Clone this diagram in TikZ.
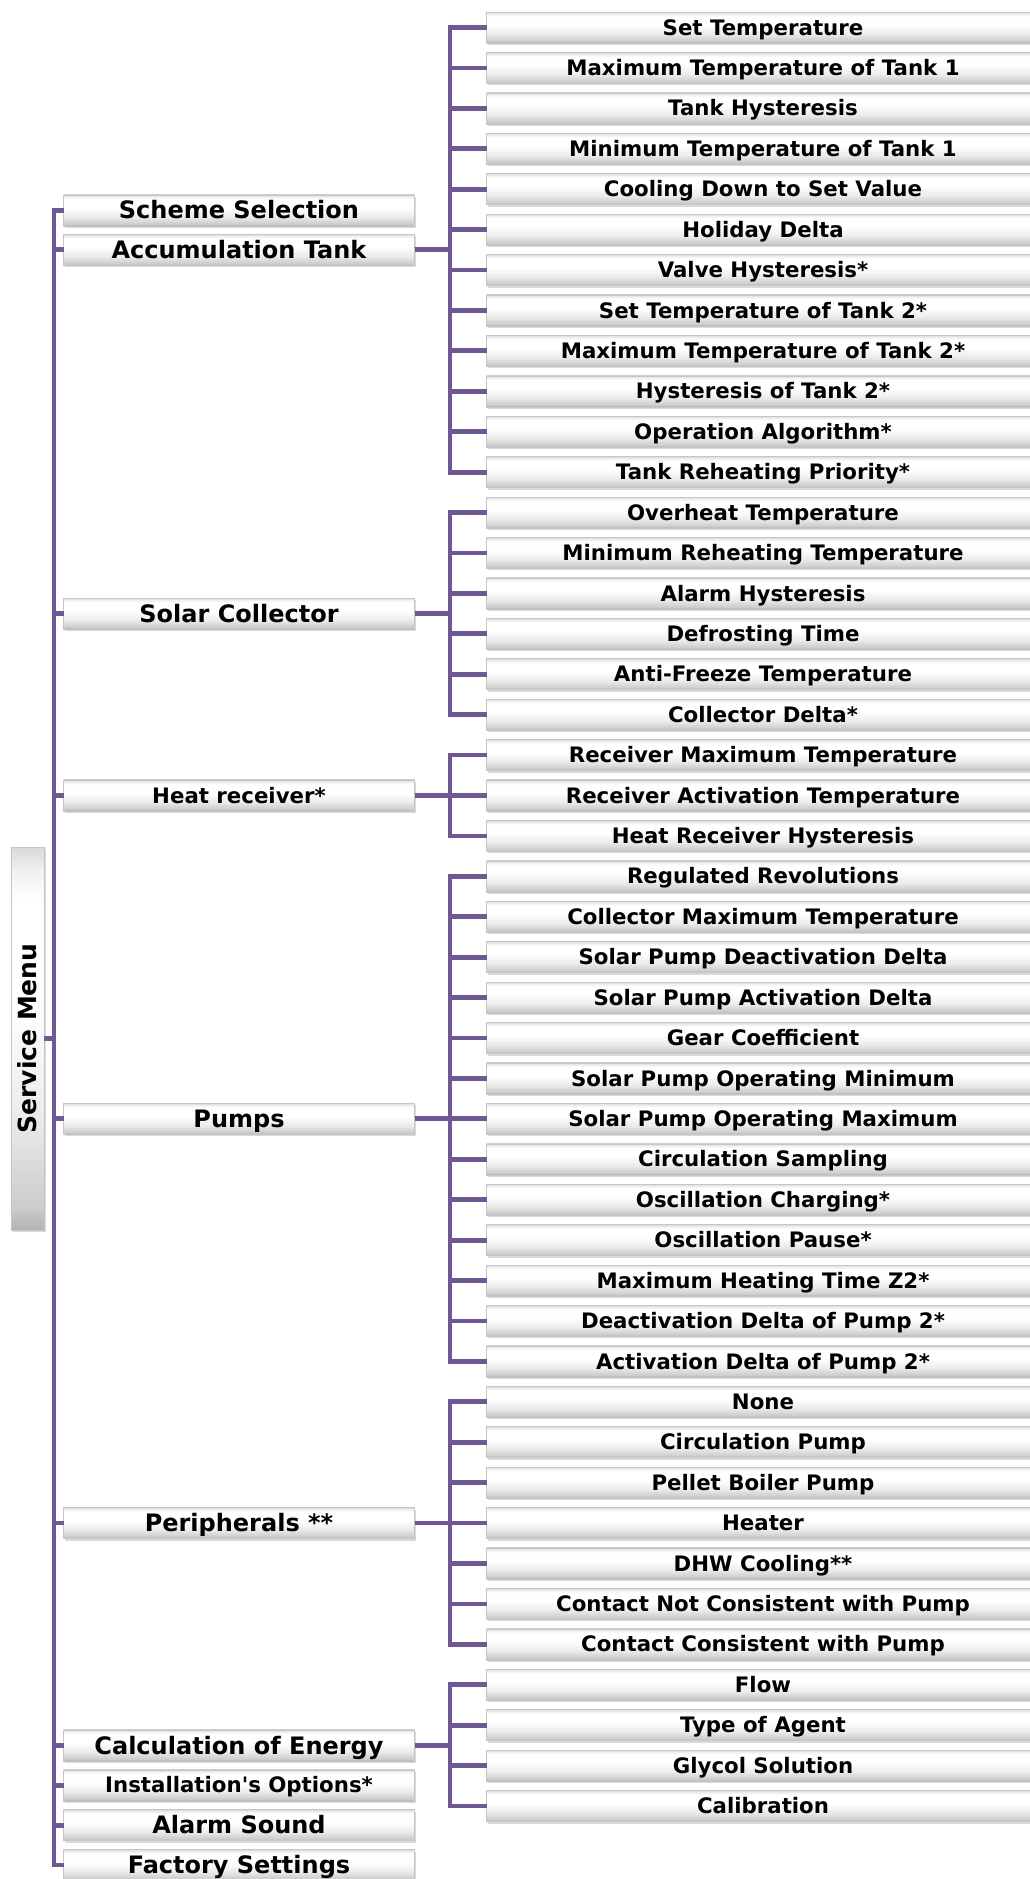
\documentclass[tikz,border=0pt]{standalone}
\usepackage{fontspec}
\setmainfont{DejaVu Sans}[Ligatures=TeXOff]
\usetikzlibrary{calc, positioning, shadows}
\definecolor{menupurple}{RGB}{112,88,148}
\pgfdeclareverticalshading{bevel}{100bp}{color(0bp)=(gray!60); color(25bp)=(gray!60); color(28bp)=(gray!40); color(40bp)=(gray!15); color(55bp)=(white); color(68bp)=(white); color(72bp)=(gray!12); color(75bp)=(gray!30); color(100bp)=(gray!30)}

\begin{document}
\begin{tikzpicture}[x=1pt, y=1pt,
	box/.style={shading=bevel, draw=gray!45, line width=0.5pt, inner sep=0pt, outer sep=0pt, minimum height=31pt, text height=17pt, text depth=1.7pt, font=\bfseries\fontsize{21.3}{24}\selectfont, drop shadow={opacity=0.3, shadow xshift=1.5pt, shadow yshift=-2pt}},
	item/.style={box, minimum width=553pt},
	mainbox/.style={box, minimum width=351pt, text height=19pt, font=\bfseries\fontsize{24}{28}\selectfont},
	subbox/.style={box, minimum width=351pt},
	link/.style={draw=menupurple, line width=4.8pt}]
				\useasboundingbox (0,0) rectangle (1030,-1879);
				
				\coordinate (trunk) at (54,0);
				\coordinate (lcol) at (239,0);
				\coordinate (bus) at (450,0);
				
				\node[item] (settemp) at (763,-27.5) {Set Temperature};
				\node[item, below = 9.42pt of settemp] (maxtank1) {Maximum Temperature of Tank 1};
				\node[item, below = 9.42pt of maxtank1] (tankhyst) {Tank Hysteresis};
				\node[item, below = 9.42pt of tankhyst] (mintank1) {Minimum Temperature of Tank 1};
				\node[item, below = 9.42pt of mintank1] (cooling) {Cooling Down to Set Value};
				\node[item, below = 9.42pt of cooling] (holiday) {Holiday Delta};
				\node[item, below = 9.42pt of holiday] (valvehyst) {Valve Hysteresis*};
				\node[item, below = 9.42pt of valvehyst] (settank2) {Set Temperature of Tank 2*};
				\node[item, below = 9.42pt of settank2] (maxtank2) {Maximum Temperature of Tank 2*};
				\node[item, below = 9.42pt of maxtank2] (hysttank2) {Hysteresis of Tank 2*};
				\node[item, below = 9.42pt of hysttank2] (algorithm) {Operation Algorithm*};
				\node[item, below = 9.42pt of algorithm] (reheat) {Tank Reheating Priority*};
				
				\node[item, below = 9.42pt of reheat] (overheat) {Overheat Temperature};
				\node[item, below = 9.42pt of overheat] (minreheat) {Minimum Reheating Temperature};
				\node[item, below = 9.42pt of minreheat] (alarmhyst) {Alarm Hysteresis};
				\node[item, below = 9.42pt of alarmhyst] (defrost) {Defrosting Time};
				\node[item, below = 9.42pt of defrost] (antifreeze) {Anti-Freeze Temperature};
				\node[item, below = 9.42pt of antifreeze] (colldelta) {Collector Delta*};
				
				\node[item, below = 9.42pt of colldelta] (recmax) {Receiver Maximum Temperature};
				\node[item, below = 9.42pt of recmax] (recact) {Receiver Activation Temperature};
				\node[item, below = 9.42pt of recact] (rechyst) {Heat Receiver Hysteresis};
				
				\node[item, below = 9.42pt of rechyst] (revolutions) {Regulated Revolutions};
				\node[item, below = 9.42pt of revolutions] (collmax) {Collector Maximum Temperature};
				\node[item, below = 9.42pt of collmax] (pumpdeact) {Solar Pump Deactivation Delta};
				\node[item, below = 9.42pt of pumpdeact] (pumpact) {Solar Pump Activation Delta};
				\node[item, below = 9.42pt of pumpact] (gear) {Gear Coefficient};
				\node[item, below = 9.42pt of gear] (opmin) {Solar Pump Operating Minimum};
				\node[item, below = 9.42pt of opmin] (opmax) {Solar Pump Operating Maximum};
				\node[item, below = 9.42pt of opmax] (sampling) {Circulation Sampling};
				\node[item, below = 9.42pt of sampling] (oscchg) {Oscillation Charging*};
				\node[item, below = 9.42pt of oscchg] (oscpause) {Oscillation Pause*};
				\node[item, below = 9.42pt of oscpause] (maxheat) {Maximum Heating Time Z2*};
				\node[item, below = 9.42pt of maxheat] (deact2) {Deactivation Delta of Pump 2*};
				\node[item, below = 9.42pt of deact2] (act2) {Activation Delta of Pump 2*};
				
				\node[item, below = 9.42pt of act2] (none) {None};
				\node[item, below = 9.42pt of none] (circpump) {Circulation Pump};
				\node[item, below = 9.42pt of circpump] (pellet) {Pellet Boiler Pump};
				\node[item, below = 9.42pt of pellet] (heater) {Heater};
				\node[item, below = 9.42pt of heater] (dhw) {DHW Cooling**};
				\node[item, below = 9.42pt of dhw] (notconsist) {Contact Not Consistent with Pump};
				\node[item, below = 9.42pt of notconsist] (consist) {Contact Consistent with Pump};
				
				\node[item, below = 9.42pt of consist] (flow) {Flow};
				\node[item, below = 9.42pt of flow] (agent) {Type of Agent};
				\node[item, below = 9.42pt of agent] (glycol) {Glycol Solution};
				\node[item, below = 9.42pt of glycol] (calib) {Calibration};
				
				\coordinate (accmid) at ($(settemp)!.5!(reheat)$);
				\coordinate (solarmid) at ($(overheat)!.5!(colldelta)$);
				\coordinate (pumpsmid) at ($(revolutions)!.5!(act2)$);
				\coordinate (energymid) at ($(flow)!.5!(calib)$);
				
				\node[mainbox] (acc) at (lcol |- accmid) {Accumulation Tank};
				\node[mainbox, above = 8.5pt of acc] (scheme) {Scheme Selection};
				\node[mainbox] (solar) at (lcol |- solarmid) {Solar Collector};
				\node[subbox] (receiver) at (lcol |- recact) {Heat receiver*};
				\node[mainbox] (pumps) at (lcol |- pumpsmid) {Pumps};
				\node[mainbox] (periph) at (lcol |- heater) {Peripherals **};
				\node[mainbox] (energy) at (lcol |- energymid) {Calculation of Energy};
				\node[subbox, below = 8.9pt of energy] (options) {Installation's Options*};
				\node[mainbox, below = 8.9pt of options] (alarm) {Alarm Sound};
				\node[mainbox, below = 8.9pt of alarm] (factory) {Factory Settings};
				
				\node[box, rotate=90, minimum width=383pt, minimum height=33pt, text height=19pt, font=\bfseries\fontsize{25}{30}\selectfont] (menu) at (27.5,-1038.5) {Service Menu};
				
				\draw[link] (menu.south) -- (menu.south -| trunk);
				\draw[link] (scheme.west) -| (trunk |- factory) -- (factory.west);
				\draw[link] (acc.west) -- (acc.west -| trunk);
				\draw[link] (solar.west) -- (solar.west -| trunk);
				\draw[link] (receiver.west) -- (receiver.west -| trunk);
				\draw[link] (pumps.west) -- (pumps.west -| trunk);
				\draw[link] (periph.west) -- (periph.west -| trunk);
				\draw[link] (energy.west) -- (energy.west -| trunk);
				\draw[link] (options.west) -- (options.west -| trunk);
				\draw[link] (alarm.west) -- (alarm.west -| trunk);
				
				\draw[link] (acc.east) -- (acc.east -| bus) |- (settemp.west);
				\draw[link] (acc.east) -- (acc.east -| bus) |- (maxtank1.west);
				\draw[link] (acc.east) -- (acc.east -| bus) |- (tankhyst.west);
				\draw[link] (acc.east) -- (acc.east -| bus) |- (mintank1.west);
				\draw[link] (acc.east) -- (acc.east -| bus) |- (cooling.west);
				\draw[link] (acc.east) -- (acc.east -| bus) |- (holiday.west);
				\draw[link] (acc.east) -- (acc.east -| bus) |- (valvehyst.west);
				\draw[link] (acc.east) -- (acc.east -| bus) |- (settank2.west);
				\draw[link] (acc.east) -- (acc.east -| bus) |- (maxtank2.west);
				\draw[link] (acc.east) -- (acc.east -| bus) |- (hysttank2.west);
				\draw[link] (acc.east) -- (acc.east -| bus) |- (algorithm.west);
				\draw[link] (acc.east) -- (acc.east -| bus) |- (reheat.west);
				
				\draw[link] (solar.east) -- (solar.east -| bus) |- (overheat.west);
				\draw[link] (solar.east) -- (solar.east -| bus) |- (minreheat.west);
				\draw[link] (solar.east) -- (solar.east -| bus) |- (alarmhyst.west);
				\draw[link] (solar.east) -- (solar.east -| bus) |- (defrost.west);
				\draw[link] (solar.east) -- (solar.east -| bus) |- (antifreeze.west);
				\draw[link] (solar.east) -- (solar.east -| bus) |- (colldelta.west);
				
				\draw[link] (receiver.east) -- (receiver.east -| bus) |- (recmax.west);
				\draw[link] (receiver.east) -- (receiver.east -| bus) |- (recact.west);
				\draw[link] (receiver.east) -- (receiver.east -| bus) |- (rechyst.west);
				
				\draw[link] (pumps.east) -- (pumps.east -| bus) |- (revolutions.west);
				\draw[link] (pumps.east) -- (pumps.east -| bus) |- (collmax.west);
				\draw[link] (pumps.east) -- (pumps.east -| bus) |- (pumpdeact.west);
				\draw[link] (pumps.east) -- (pumps.east -| bus) |- (pumpact.west);
				\draw[link] (pumps.east) -- (pumps.east -| bus) |- (gear.west);
				\draw[link] (pumps.east) -- (pumps.east -| bus) |- (opmin.west);
				\draw[link] (pumps.east) -- (pumps.east -| bus) |- (opmax.west);
				\draw[link] (pumps.east) -- (pumps.east -| bus) |- (sampling.west);
				\draw[link] (pumps.east) -- (pumps.east -| bus) |- (oscchg.west);
				\draw[link] (pumps.east) -- (pumps.east -| bus) |- (oscpause.west);
				\draw[link] (pumps.east) -- (pumps.east -| bus) |- (maxheat.west);
				\draw[link] (pumps.east) -- (pumps.east -| bus) |- (deact2.west);
				\draw[link] (pumps.east) -- (pumps.east -| bus) |- (act2.west);
				
				\draw[link] (periph.east) -- (periph.east -| bus) |- (none.west);
				\draw[link] (periph.east) -- (periph.east -| bus) |- (circpump.west);
				\draw[link] (periph.east) -- (periph.east -| bus) |- (pellet.west);
				\draw[link] (periph.east) -- (periph.east -| bus) |- (heater.west);
				\draw[link] (periph.east) -- (periph.east -| bus) |- (dhw.west);
				\draw[link] (periph.east) -- (periph.east -| bus) |- (notconsist.west);
				\draw[link] (periph.east) -- (periph.east -| bus) |- (consist.west);
				
				\draw[link] (energy.east) -- (energy.east -| bus) |- (flow.west);
				\draw[link] (energy.east) -- (energy.east -| bus) |- (agent.west);
				\draw[link] (energy.east) -- (energy.east -| bus) |- (glycol.west);
				\draw[link] (energy.east) -- (energy.east -| bus) |- (calib.west);
				
				\end{tikzpicture}
\end{document}
